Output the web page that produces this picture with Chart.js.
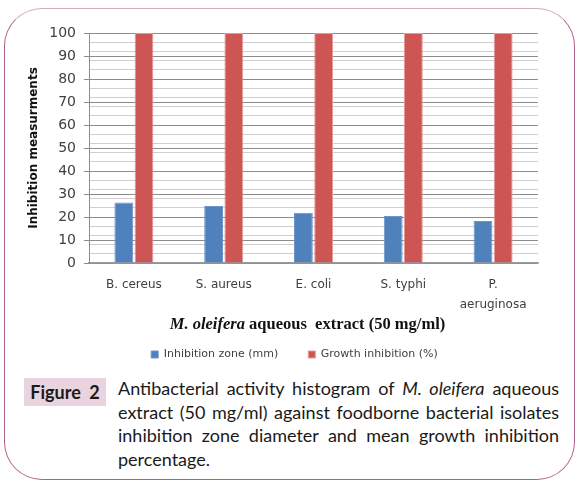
<!DOCTYPE html>
<html>
<head>
<meta charset="utf-8">
<script src="https://cdn.jsdelivr.net/npm/chart.js@4.4.1/dist/chart.umd.min.js"></script>
<style>
    html, body { margin: 0; padding: 0; background: #fff; }
    body { width: 579px; height: 484px; position: relative; overflow: hidden; }
    .frame {
        position: absolute; left: 4px; top: 8px; width: 569px; height: 470px;
        border: 1.5px solid #b0608b; border-top-color: #d4a9c0;
        border-radius: 38px;
    }
    .chart-box { position: absolute; left: 0; top: 0; width: 579px; height: 374px; }
    .fig-label {
        position: absolute; left: 24px; top: 378px; width: 82px; height: 28px;
        background: #e9d3de; font: bold 18px Lato, sans-serif; color: #1a1a1a;
        line-height: 28px; text-align: center; word-spacing: 4px;
    }
    .caption {
        position: absolute; left: 118px; top: 377px; width: 441px;
        font: 18px Lato, sans-serif; color: #1a1a1a; line-height: 23.5px;
    }
    .caption span { display: block; text-align: justify; text-align-last: justify; }
    .caption span.last { text-align-last: left; }
</style>
</head>
<body>
<div class="frame"></div>
<div class="chart-box"><canvas id="barChart"></canvas></div>
<div class="fig-label">Figure 2</div>
<div class="caption">
    <span>Antibacterial activity histogram of <i>M. oleifera</i> aqueous</span>
    <span>extract (50 mg/ml) against foodborne bacterial isolates</span>
    <span>inhibition zone diameter and mean growth inhibition</span>
    <span class="last">percentage.</span>
</div>
<script>
// Chart data
const isolates = ['B. cereus', 'S. aureus', 'E. coli', 'S. typhi', ['P.', 'aeruginosa']];
const inhibitionZone = [26.3, 24.8, 21.9, 20.4, 18.3];
const growthInhibition = [100, 100, 100, 100, 100];
const seriesNames = ['Inhibition zone (mm)', 'Growth inhibition (%)'];
const yTicks = [0, 10, 20, 30, 40, 50, 60, 70, 80, 90, 100];

// x axis title has an italic part, so draw it by hand
const xTitlePlugin = {
    id: 'xTitle',
    afterLayout(chart) {
        // nudge the legend a little right, like the original
        chart.legend.left += 12;
        chart.legend.right += 12;
    },
    afterDraw(chart) {
        const ctx = chart.ctx;
        const area = chart.chartArea;
        const part1 = 'M. oleifera';
        const part2 = ' aqueous  extract (50 mg/ml)';
        const fItalic = 'italic bold 16.5px "Liberation Serif", serif';
        const fBold = 'bold 16.5px "Liberation Serif", serif';
        ctx.save();
        ctx.fillStyle = '#111';
        ctx.textBaseline = 'middle';
        ctx.font = fItalic;
        const w1 = ctx.measureText(part1).width;
        ctx.font = fBold;
        const w2 = ctx.measureText(part2).width;
        const x0 = (area.left + area.right) / 2 - (w1 + w2) / 2 - 6;
        const y = chart.scales.x.bottom + 6;
        ctx.font = fItalic;
        ctx.fillText(part1, x0, y);
        ctx.font = fBold;
        ctx.fillText(part2, x0 + w1, y);
        ctx.restore();
    }
};

const ctx = document.getElementById('barChart');
new Chart(ctx, {
    type: 'bar',
    data: {
        labels: isolates,
        datasets: [
            {
                label: seriesNames[0],
                data: inhibitionZone,
                backgroundColor: '#4f81bd',
                borderColor: '#6d95c7',
                borderWidth: 1,
                categoryPercentage: 0.45,
                barPercentage: 0.93
            },
            {
                label: seriesNames[1],
                data: growthInhibition,
                backgroundColor: '#cd5654',
                borderColor: '#e39a98',
                borderWidth: 1,
                categoryPercentage: 0.45,
                barPercentage: 0.93
            }
        ]
    },
    options: {
        responsive: true,
        maintainAspectRatio: false,
        animation: false,
        layout: { padding: { left: 27, right: 41, top: 33, bottom: 4 } },
        plugins: {
            legend: {
                position: 'bottom',
                labels: {
                    boxWidth: 7,
                    boxHeight: 7,
                    padding: 30,
                    color: '#404040',
                    font: { family: 'DejaVu Sans', size: 11 }
                }
            },
            tooltip: { enabled: false }
        },
        scales: {
            x: {
                afterFit: scale => { scale.height = 56; },
                grid: { display: false, drawTicks: false },
                border: { display: true, color: '#9a9a9a', width: 1.5 },
                ticks: {
                    color: '#404040',
                    padding: 12,
                    maxRotation: 0,
                    font: { family: 'DejaVu Sans', size: 12, lineHeight: 1.65 }
                }
            },
            y: {
                min: 0,
                max: 100,
                afterFit: scale => { scale.width = 62; },
                afterBuildTicks: scale => {
                    // major ticks plus the faint in-between lines seen in the original
                    const vals = [];
                    for (let v = 0; v <= 100; v += 2) {
                        if (yTicks.includes(v) || v % 4 === 0) vals.push({ value: v });
                    }
                    scale.ticks = vals;
                },
                ticks: {
                    autoSkip: false,
                    padding: 8,
                    color: '#404040',
                    font: { family: 'DejaVu Sans', size: 14 },
                    callback: v => yTicks.includes(v) ? v : ''
                },
                grid: {
                    tickLength: 5,
                    color: c => yTicks.includes(c.tick.value) ? '#8c8c8c' : '#cfcfcf',
                    tickColor: c => yTicks.includes(c.tick.value) ? '#8c8c8c' : 'transparent'
                },
                border: { color: '#8c8c8c' },
                title: {
                    display: true,
                    text: 'Inhibition measurments',
                    color: '#111',
                    padding: { top: 0, bottom: 0 },
                    font: { family: 'DejaVu Sans', size: 12, weight: 'bold' }
                }
            }
        }
    },
    plugins: [xTitlePlugin]
});
</script>
</body>
</html>
